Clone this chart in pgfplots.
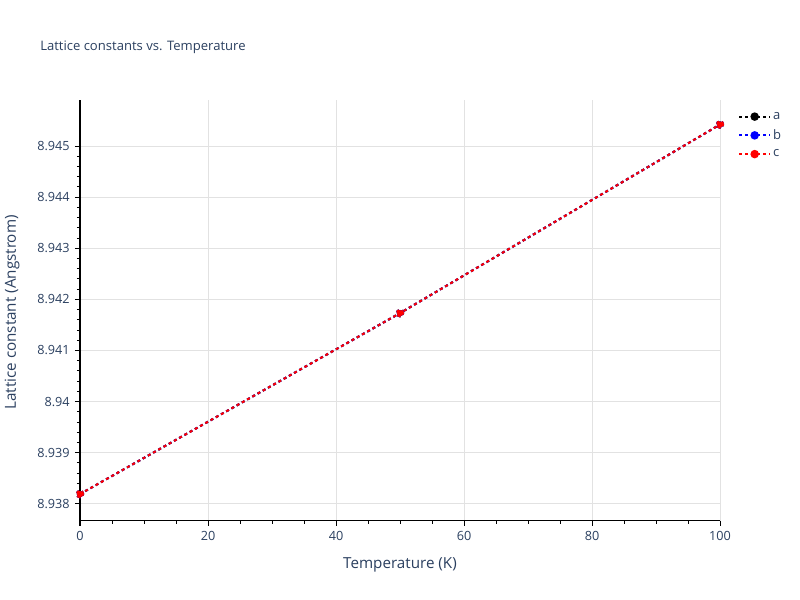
\documentclass[border=0pt]{standalone}
\usepackage{pgfplots}
\pgfplotsset{compat=1.18}
\usepackage{fontspec}
\setmainfont{Open Sans}
\definecolor{plotlytext}{RGB}{42,63,95}
\definecolor{gridgray}{RGB}{226,226,226}

\begin{document}
\begin{tikzpicture}[x=1pt,y=1pt]
  \begin{axis}[
      at={(0,0)}, anchor=south west,
      scale only axis,
      width=480pt, height=315.5pt,
      xmin=0, xmax=100,
      ymin=8.93767, ymax=8.94590,
      axis lines*=left,
      axis line style={black, line width=0.8pt},
      xtick={0,20,40,60,80,100},
      xticklabels={0,20,40,60,80,100},
      ytick={8.938,8.939,8.940,8.941,8.942,8.943,8.944,8.945},
      yticklabels={8.938,8.939,8.94,8.941,8.942,8.943,8.944,8.945},
      minor x tick num=3,
      minor y tick num=4,
      tick align=outside,
      major tick length=3.75pt,
      minor tick length=2.25pt,
      every tick/.style={black, line width=0.75pt},
      grid=major,
      major grid style={gridgray, line width=0.75pt},
      tick label style={font=\fontsize{9.5}{10}\selectfont, text=plotlytext},
      xticklabel style={yshift=-1pt},
      yticklabel style={xshift=-0.5pt},
      xlabel={Temperature (K)},
      ylabel={Lattice constant (Angstrom)},
      label style={font=\fontsize{11.4}{13}\selectfont, text=plotlytext},
      x label style={at={(axis description cs:0.5,0)}, anchor=center, yshift=-33pt},
      y label style={at={(axis description cs:0,0.5)}, anchor=center, yshift=51pt, xshift=-1.5pt},
      clip=false,
      legend style={draw=none, fill=none, at={(rel axis cs:1.022,0.983)}, anchor=north west,
        font=\fontsize{9.75}{11}\selectfont, text=plotlytext, row sep=3.2pt,
        nodes={inner sep=1.5pt}},
      legend cell align=left,
      legend image code/.code={%
        \draw[#1, mark=none] (0pt,0pt) -- (23pt,0pt);
        \draw[#1, solid] plot coordinates {(11.5pt,0pt)};},
      every axis plot/.append style={line width=1.5pt, dash pattern=on 2.25pt off 2.25pt,
        mark=*, mark size=2.4pt, mark options={solid}},
    ]
    \addplot[black, mark options={fill=black, draw=black}] coordinates {
      (0,8.93819) (50,8.94173) (100,8.94542)
    };
    \addlegendentry{a}
    \addplot[blue, mark options={fill=blue, draw=blue}] coordinates {
      (0,8.93819) (50,8.94173) (100,8.94542)
    };
    \addlegendentry{b}
    \addplot[red, mark options={fill=red, draw=red}] coordinates {
      (0,8.93819) (50,8.94173) (100,8.94542)
    };
    \addlegendentry{c}
  \end{axis}
  \node[anchor=west, inner sep=0pt, text=plotlytext, font=\fontsize{9.8}{11}\selectfont] at (-30pt,355pt) {Lattice constants vs. Temperature};
  \pgfresetboundingbox
  \path (-60pt,-59.5pt) rectangle (540pt,390.5pt);
\end{tikzpicture}
\end{document}
